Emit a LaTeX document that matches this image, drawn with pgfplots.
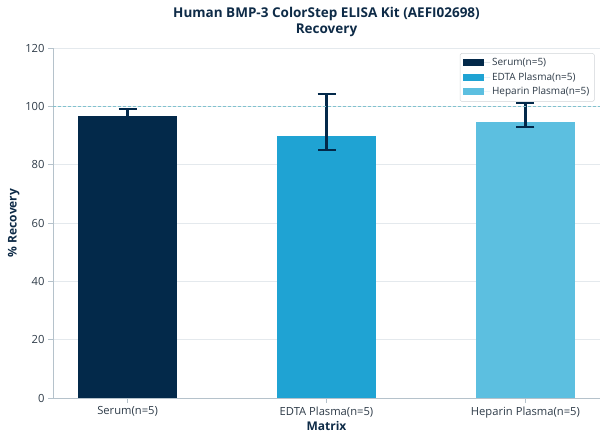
\documentclass[border=0pt]{standalone}
\usepackage{pgfplots}
\pgfplotsset{compat=1.18}
\usepackage{fontspec}
\setmainfont{Open Sans}
\definecolor{navy}{HTML}{03294A}
\definecolor{edta}{HTML}{1FA3D3}
\definecolor{hep}{HTML}{5CBFE0}
\definecolor{titlec}{HTML}{0E2B47}
\definecolor{tickc}{HTML}{2E3B48}
\definecolor{spine}{HTML}{B5C2CB}
\definecolor{gridc}{HTML}{E4E9ED}
\definecolor{refc}{HTML}{80C2CF}
\pgfplotsset{
  myerr/.style={
  error bars/.cd, y dir=both, y explicit,
  error bar style={draw=navy, /tikz/line width=2.5pt},
  error mark options={draw=navy, line width=1.9pt, mark size=9pt, rotate=90},
}}
\begin{document}
\begin{tikzpicture}
\begin{axis}[
  at={(0,0)}, anchor=south west,
  scale only axis, width=547pt, height=350pt,
  xmin=-0.375, xmax=2.375, ymin=0, ymax=120,
  ybar, bar width=0.5, bar shift=0pt,
  xtick={0,1,2},
  xticklabels={Serum(n=5),EDTA Plasma(n=5),Heparin Plasma(n=5)},
  ytick={0,20,...,120},
  axis x line*=bottom, axis y line*=left,
  axis line style={spine, line width=0.8pt},
  tick style={spine, line width=0.8pt},
  tick align=outside, major tick length=5pt,
  ymajorgrids, grid style={gridc, line width=0.7pt},
  ticklabel style={font=\fontsize{11.2}{13}\selectfont, text=tickc},
  /pgf/number format/assume math mode=true,
  xlabel={\textbf{Matrix}}, ylabel={\textbf{\% Recovery}},
  label style={font=\fontsize{12}{14}\selectfont, text=titlec},
  xlabel style={yshift=3pt},
  ylabel style={yshift=-1pt},
  legend style={at={(0.99,0.985)}, anchor=north east, draw=gridc!80!gray, rounded corners=1.5pt,
    font=\fontsize{10}{12}\selectfont, text=tickc, row sep=1.5pt, inner sep=3pt},
  legend image code/.code={\fill[#1, sharp corners] (0pt,-3.5pt) rectangle (21pt,3.5pt); \path (0pt,0pt) -- (27pt,0pt);},
  legend cell align=left,
]
\addplot[draw=none, fill=navy, myerr] coordinates {(0,96.8) +- (0,2.2)};
\addplot[draw=none, fill=edta, myerr] coordinates {(1,89.8) += (0,14.3) -= (0,4.8)};
\addplot[draw=none, fill=hep, myerr] coordinates {(2,94.7) += (0,6.3) -= (0,1.7)};
\legend{Serum(n=5),EDTA Plasma(n=5),Heparin Plasma(n=5)}
\addplot[sharp plot, refc, line width=0.8pt, dash pattern=on 3pt off 2pt, forget plot] coordinates {(-0.375,100) (2.375,100)};
\end{axis}
\node[font=\bfseries\fontsize{13.5}{16}\selectfont, text=titlec, align=center] at (273.5pt,376pt) {Human BMP-3 ColorStep ELISA Kit (AEFI02698)\\Recovery};
\pgfresetboundingbox
\path (-53pt,-46pt) rectangle (555pt,398pt);
\end{tikzpicture}
\end{document}
